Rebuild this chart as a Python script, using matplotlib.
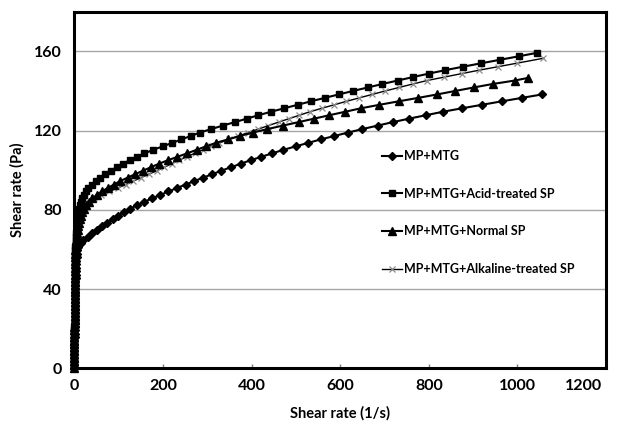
import matplotlib
matplotlib.use("Agg")
import matplotlib.pyplot as plt
import matplotlib.transforms as mtransforms

# ---- data (stress-ramp style curves) ----
stress_steps = [0, 1.75, 3.5, 5.25, 7, 8.75, 10.5, 12.25, 14, 15.75, 17.5, 19.25, 21, 22.75,
                24.5, 26.25, 28, 29.75, 31.5, 33.25, 35, 36.75, 38.5, 40.25, 42, 43.75, 45.5,
                47.25, 49, 50.75, 52.5, 54.25, 56, 57.75, 59.5, 61.25, 63, 64.75, 66.5, 68.25,
                70, 71.75, 73.5, 75.25, 77, 78.75, 80.5, 82.25, 84, 85.75, 87.5, 89.25, 91,
                92.75, 94.5, 96.25, 98, 99.75, 101.5, 103.25, 105, 106.75, 108.5, 110.25, 112,
                113.75, 115.5, 117.25, 119, 120.75, 122.5, 124.25, 126, 127.75, 129.5, 131.25,
                133, 134.75, 136.5, 138.25, 140, 141.75, 143.5, 145.25, 147, 148.75, 150.5,
                152.25, 154, 155.75, 157.5, 159.25]

rate_mtg = [0, 0.05, 0.1, 0.15, 0.2, 0.25, 0.3, 0.35, 0.4, 0.5, 0.6, 0.7, 0.8, 0.9, 1.0, 1.1,
            1.2, 1.3, 1.4, 1.5, 1.6, 1.7, 1.8,
            1.9, 2.1, 2.5, 2.8, 3.2, 3.5, 3.9, 4.3, 4.7, 5.1, 5.6, 6.5,
            9, 14, 20.1, 29.9, 40, 51.3, 62.8, 74.9, 87.1, 99.4,
            111.6, 125, 141.3, 157.6, 175, 193.8, 212.5, 231.7, 251.3, 270.9,
            291, 311.5, 331.9, 353.7, 375.7, 397.7, 422.2, 446.6, 471.6, 499.3,
            527.1, 555.7, 586.8, 617.7, 650.2, 684.4, 718.7, 755.2, 793.5, 832,
            875, 919.8, 964.6, 1010.2, 1055.9]

rate_acid = [0, 0.03, 0.06, 0.1, 0.13, 0.16, 0.2, 0.23, 0.26, 0.3, 0.35, 0.4, 0.45, 0.5, 0.55,
             0.6, 0.65, 0.7, 0.75, 0.8, 0.85, 0.9, 0.95, 1.0, 1.05, 1.1, 1.15, 1.2, 1.25, 1.3,
             1.33, 1.36,
             1.4, 1.8, 2.1, 2.5, 2.9, 3.2, 3.8, 4.5, 5.1, 5.9,
             6.5, 7.2, 8.4, 9.2, 10.85, 12.5, 15.0, 18.3, 21.6, 26.9,
             32, 39.5, 48.8, 58.9, 70.1, 82.3, 95.8, 110, 124.9, 140.8,
             158.2, 178.1, 199.1, 220.7, 241.6, 262.5, 283.4, 309, 335, 362.2,
             389, 415.6, 444, 473.9, 503.8, 533.9, 565.2, 597.1, 629.2, 662.3,
             695.3, 729.8, 764.3, 800.2, 837.3, 877.6, 919, 961.4, 1003.2, 1044.8]

rate_normal = [0, 0.03, 0.06, 0.1, 0.13, 0.16, 0.2, 0.23, 0.26, 0.3, 0.35, 0.4, 0.45, 0.5, 0.55,
               0.6, 0.65, 0.7, 0.75, 0.8, 0.85, 0.9, 0.95, 1.0, 1.05, 1.1, 1.15, 1.2, 1.25, 1.3,
               1.38,
               1.45, 1.9, 2.3, 2.7, 3.1, 3.9, 4.9, 6.0, 7.1, 8.1,
               9.1, 10.5, 12.8, 15.1, 17.5, 22.5, 27.0, 32.4, 40.1, 51.0,
               61.9, 75.5, 89.5, 103.5, 120.6, 137.5, 155.1, 173, 191, 211,
               232.8, 254.5, 275.8, 296.9, 319, 346.2, 373.4, 402.9, 436, 470.5,
               506, 540.9, 575.8, 611.4, 647.1, 688.4, 731.8, 776.2, 819.1, 860,
               901.3, 944, 994, 1024.3]
normal_last_stress = 146.6

rate_alk = [0, 0.03, 0.06, 0.09, 0.12, 0.15, 0.18, 0.21, 0.24, 0.27, 0.3, 0.34, 0.38, 0.42,
            0.46, 0.5, 0.55, 0.6, 0.65, 0.7, 0.75, 0.8, 0.85, 0.9, 0.95, 1.0, 1.05, 1.1, 1.15,
            1.2, 1.22,
            1.25, 1.6, 2.0, 2.4, 2.9, 3.6, 4.6, 5.5, 6.4, 7.3,
            8.3, 9.5, 11.8, 14.0, 16.3, 19.7, 26.2, 34.3, 45.1, 61.2,
            79.1, 98.1, 116, 133.4, 150.8, 168.6, 186.4, 203.2, 219.6, 235.9,
            253.5, 271.6, 289.8, 308.7, 327.7, 348.3, 370.4, 392.6, 415.3, 438.1,
            460.9, 484.5, 508.1, 531.8, 558.6, 586.3, 614.1, 643.1, 672.5, 701.9,
            732.9, 763.8, 796, 835.1, 874.3, 914.4, 956.6, 998.8, 1058.8]
alk_last_stress = 156.5

labels = ["MP+MTG", "MP+MTG+Acid-treated SP", "MP+MTG+Normal SP",
          "MP+MTG+Alkaline-treated SP"]
x_ticks = [0, 200, 400, 600, 800, 1000, 1200]
y_ticks = [0, 40, 80, 120, 160]

y_mtg = stress_steps[:len(rate_mtg)]
y_acid = stress_steps[:len(rate_acid)]
y_normal = stress_steps[:len(rate_normal) - 1] + [normal_last_stress]
y_alk = stress_steps[:len(rate_alk) - 1] + [alk_last_stress]

# ---- figure ----
plt.rcParams['font.family'] = ['Lato', 'DejaVu Sans']
plt.rcParams['font.weight'] = 'bold'

W, H = 621, 425
fig = plt.figure(figsize=(W / 100, H / 100), dpi=100)
ax = fig.add_axes([74.3 / W, 1 - 368.3 / H, (606 - 74.3) / W, (368.3 - 11.7) / H])

ax.plot(rate_mtg, y_mtg, color='black', lw=1.5, marker='D', ms=4.2, mfc='black',
        mec='black', label=labels[0], clip_on=False, zorder=3)
ax.plot(rate_acid, y_acid, color='black', lw=1.5, marker='s', ms=4.8, mfc='black',
        mec='black', label=labels[1], clip_on=False, zorder=5)
ax.plot(rate_normal, y_normal, color='black', lw=1.5, marker='^', ms=5.2, mfc='black',
        mec='black', label=labels[2], clip_on=False, zorder=4)
ax.plot(rate_alk, y_alk, color='black', lw=1.0, marker='x', ms=4.6, mec='#8c8c8c',
        mew=0.9, label=labels[3], clip_on=False, zorder=2.5)

ax.set_xlim(0, 1200)
ax.set_ylim(0, 180)
ax.set_xticks(x_ticks)
ax.set_yticks(y_ticks)
ax.yaxis.grid(True, color='#a6a6a6', lw=1.0, zorder=1)
ax.set_axisbelow(True)

for sp in ax.spines.values():
    sp.set_linewidth(2.2)
    sp.set_color('black')
    sp.set_zorder(2)

ax.tick_params(axis='x', direction='in', length=3, width=1, color='#808080',
               labelsize=11.5, pad=8)
ax.tick_params(axis='y', length=0, labelsize=11.5, pad=9)
for lab in ax.get_xticklabels() + ax.get_yticklabels():
    lab.set_fontweight('bold')

# keep the last x label inside the chart, as the reference does
last = ax.get_xticklabels()[-1]
last.set_horizontalalignment('right')
last.set_transform(last.get_transform() +
                   mtransforms.ScaledTranslation(-3 / 72, 0, fig.dpi_scale_trans))

ax.set_xlabel("Shear rate (1/s)", fontsize=10.5, fontweight='bold', labelpad=9)
ax.set_ylabel("Shear rate (Pa)", fontsize=10.5, fontweight='bold', labelpad=7)

leg = ax.legend(loc='upper left', bbox_to_anchor=(382 / W, 1 - 150 / H),
                bbox_transform=fig.transFigure, frameon=False, borderpad=0,
                borderaxespad=0, handlelength=1.6, handletextpad=0.15,
                labelspacing=2.05, prop={'family': ['Lato', 'DejaVu Sans'],
                                         'weight': 'bold', 'size': 9})

fig.savefig("out.png", dpi=100)
